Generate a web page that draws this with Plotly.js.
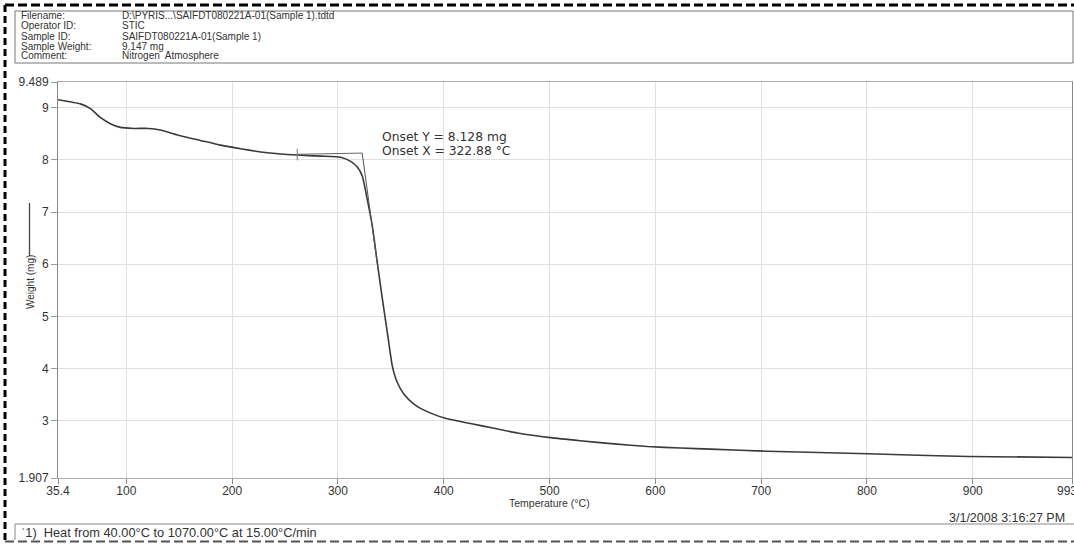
<!DOCTYPE html>
<html>
<head>
<meta charset="utf-8">
<script src="https://cdn.plot.ly/plotly-3.0.1.min.js"></script>
<style>
html,body{margin:0;padding:0;background:#fff;overflow:hidden;}
#chart{width:1074px;height:544px;}
</style>
</head>
<body>
<div id="chart"></div>
<script>
// ---- data ----
var temperature = [35.4, 56.5, 66, 75.4, 84.9, 94.3, 107, 121, 132, 151, 170, 189, 208, 227, 246, 261.5, 283.5, 302.5, 312, 318.3, 323, 327.7, 332.5, 337.2, 342, 346.7, 351.4, 356, 362.4, 371.8, 378, 390, 400, 420, 435, 469.6, 500.8, 529, 561, 592.6, 624, 652.5, 706, 801, 895.6, 993.8];
var weight = [9.15, 9.07, 8.98, 8.81, 8.69, 8.62, 8.60, 8.60, 8.57, 8.46, 8.37, 8.28, 8.21, 8.15, 8.11, 8.09, 8.07, 8.05, 7.97, 7.86, 7.69, 7.24, 6.73, 6.03, 5.33, 4.69, 4.05, 3.74, 3.51, 3.32, 3.24, 3.13, 3.06, 2.97, 2.91, 2.77, 2.68, 2.62, 2.56, 2.51, 2.48, 2.46, 2.42, 2.37, 2.32, 2.30];

var onsetX = 322.88;
var onsetY = 8.128;
var baseTangentX = [261.5, 322.88];
var baseTangentY = [8.105, 8.128];
var steepTangentX = [322.88, 338];
var steepTangentY = [8.128, 5.89];
var markerX = 261.5;
var markerY = [8.21, 7.99];

var xTickVals = [35.4, 100, 200, 300, 400, 500, 600, 700, 800, 900, 993.8];
var xTickText = ['35.4', '100', '200', '300', '400', '500', '600', '700', '800', '900', '993.8'];
var yTickVals = [1.907, 3, 4, 5, 6, 7, 8, 9, 9.489];
var yTickText = ['1.907', '3', '4', '5', '6', '7', '8', '9', '9.489'];
var xRange = [35.4, 993.8];
var yRange = [1.907, 9.489];

var headerLabels = ['Filename:', 'Operator ID:', 'Sample ID:', 'Sample Weight:', 'Comment:'];
var headerValues = ['D:\\PYRIS...\\SAIFDT080221A-01(Sample 1).tdtd', 'STIC', 'SAIFDT080221A-01(Sample 1)', '9.147 mg', 'Nitrogen  Atmosphere'];
var footerText = '\u02C81)  Heat from 40.00\u00B0C to 1070.00\u00B0C at 15.00\u00B0C/min';
var dateText = '3/1/2008 3:16:27 PM';
var xTitle = 'Temperature (\u00B0C)';
var yTitle = 'Weight (mg)';

// ---- layout helpers (pixel -> paper) ----
var W = 1074, H = 544;
var ML = 58, MR = 2, MT = 82, MB = 66;
var PW = W - ML - MR, PH = H - MT - MB;
function px(x) { return (x - ML) / PW; }
function py(y) { return (H - MB - y) / PH; }

var FONT = 'Liberation Sans, Arial, sans-serif';
var TXT = '#333';

var traces = [
  {x: temperature, y: weight, type: 'scatter', mode: 'lines',
   line: {color: '#3a3a3a', width: 1.6, shape: 'spline', smoothing: 0.5},
   hoverinfo: 'x+y', showlegend: false},
  {x: baseTangentX, y: baseTangentY, type: 'scatter', mode: 'lines',
   line: {color: '#666', width: 1}, showlegend: false, hoverinfo: 'skip'},
  {x: steepTangentX, y: steepTangentY, type: 'scatter', mode: 'lines',
   line: {color: '#555', width: 1}, showlegend: false, hoverinfo: 'skip'},
  {x: [markerX, markerX], y: markerY, type: 'scatter', mode: 'lines',
   line: {color: '#777', width: 1}, showlegend: false, hoverinfo: 'skip'}
];

var annotations = [];
var rowY = [16, 26, 36, 46, 56];
for (var i = 0; i < headerLabels.length; i++) {
  annotations.push({xref: 'paper', yref: 'paper', x: px(20), y: py(rowY[i]), xanchor: 'left', yanchor: 'middle',
    text: headerLabels[i], showarrow: false, borderpad: 0, font: {family: FONT, size: 10, color: TXT}});
  annotations.push({xref: 'paper', yref: 'paper', x: px(121), y: py(rowY[i]), xanchor: 'left', yanchor: 'middle',
    text: headerValues[i], showarrow: false, borderpad: 0, font: {family: FONT, size: 10, color: TXT}});
}
annotations.push({xref: 'paper', yref: 'paper', x: px(381), y: py(136.5), xanchor: 'left', yanchor: 'middle',
  text: 'Onset Y = ' + onsetY.toFixed(3) + ' mg', showarrow: false, borderpad: 0, font: {family: 'DejaVu Sans, sans-serif', size: 12.3, color: TXT}});
annotations.push({xref: 'paper', yref: 'paper', x: px(381), y: py(151), xanchor: 'left', yanchor: 'middle',
  text: 'Onset X = ' + onsetX.toFixed(2) + ' \u00B0C', showarrow: false, borderpad: 0, font: {family: 'DejaVu Sans, sans-serif', size: 12.3, color: TXT}});
annotations.push({xref: 'paper', yref: 'paper', x: px(1067), y: py(518), xanchor: 'right', yanchor: 'middle',
  text: dateText, showarrow: false, font: {family: FONT, size: 12.5, color: TXT}});
annotations.push({xref: 'paper', yref: 'paper', x: px(19), y: py(532), xanchor: 'left', yanchor: 'middle',
  text: footerText, showarrow: false, font: {family: FONT, size: 12.8, color: TXT}});
annotations.push({xref: 'paper', yref: 'paper', x: px(549), y: py(503), xanchor: 'center', yanchor: 'middle',
  text: xTitle, showarrow: false, borderpad: 0, font: {family: FONT, size: 10.5, color: TXT}});
annotations.push({xref: 'paper', yref: 'paper', x: px(30), y: py(282), xanchor: 'center', yanchor: 'middle',
  text: yTitle, textangle: -90, showarrow: false, font: {family: FONT, size: 10, color: TXT}});

var shapes = [
  // outer dashed border
  {type: 'line', xref: 'paper', yref: 'paper', x0: px(5), x1: px(5), y0: py(5), y1: py(541),
   line: {color: '#000', width: 3, dash: '7px,4px'}},
  {type: 'line', xref: 'paper', yref: 'paper', x0: px(5), x1: px(1076), y0: py(5), y1: py(5),
   line: {color: '#000', width: 3, dash: '9px,4px'}},
  {type: 'line', xref: 'paper', yref: 'paper', x0: px(5), x1: px(1076), y0: py(541.5), y1: py(541.5),
   line: {color: '#555', width: 2, dash: '9px,4px'}},
  // header box
  {type: 'rect', xref: 'paper', yref: 'paper', x0: px(15), x1: px(1073), y0: py(11), y1: py(63),
   line: {color: '#777', width: 1}},
  // footer box
  {type: 'line', xref: 'paper', yref: 'paper', x0: px(15), x1: px(1074), y0: py(524), y1: py(524),
   line: {color: '#888', width: 1}},
  {type: 'line', xref: 'paper', yref: 'paper', x0: px(15), x1: px(15), y0: py(524), y1: py(540),
   line: {color: '#888', width: 1}},
  // y-title legend line
  {type: 'line', xref: 'paper', yref: 'paper', x0: px(29.5), x1: px(29.5), y0: py(203), y1: py(256),
   line: {color: '#444', width: 1.3}}
];

var layout = {
  width: W, height: H,
  margin: {l: ML, r: MR, t: MT, b: MB, pad: 0},
  paper_bgcolor: '#fff', plot_bgcolor: '#fff',
  showlegend: false,
  xaxis: {
    range: xRange, tickmode: 'array', tickvals: xTickVals, ticktext: xTickText,
    showgrid: true, gridcolor: '#e0e0e0', gridwidth: 1, zeroline: false,
    showline: true, linecolor: '#aaa', linewidth: 1, mirror: true,
    ticks: 'outside', ticklen: 5, tickcolor: '#888',
    ticklabelstandoff: -3,
    ticklabeloverflow: 'allow',
    tickfont: {family: FONT, size: 12, color: TXT}
  },
  yaxis: {
    range: yRange, tickmode: 'array', tickvals: yTickVals, ticktext: yTickText,
    showgrid: true, gridcolor: '#e0e0e0', gridwidth: 1, zeroline: false,
    showline: true, linecolor: '#888', linewidth: 1, mirror: true,
    ticks: 'outside', ticklen: 6, tickcolor: '#999',
    tickfont: {family: FONT, size: 12, color: TXT}
  },
  annotations: annotations,
  shapes: shapes
};

Plotly.newPlot('chart', traces, layout, {staticPlot: true, displayModeBar: false});
</script>
</body>
</html>
